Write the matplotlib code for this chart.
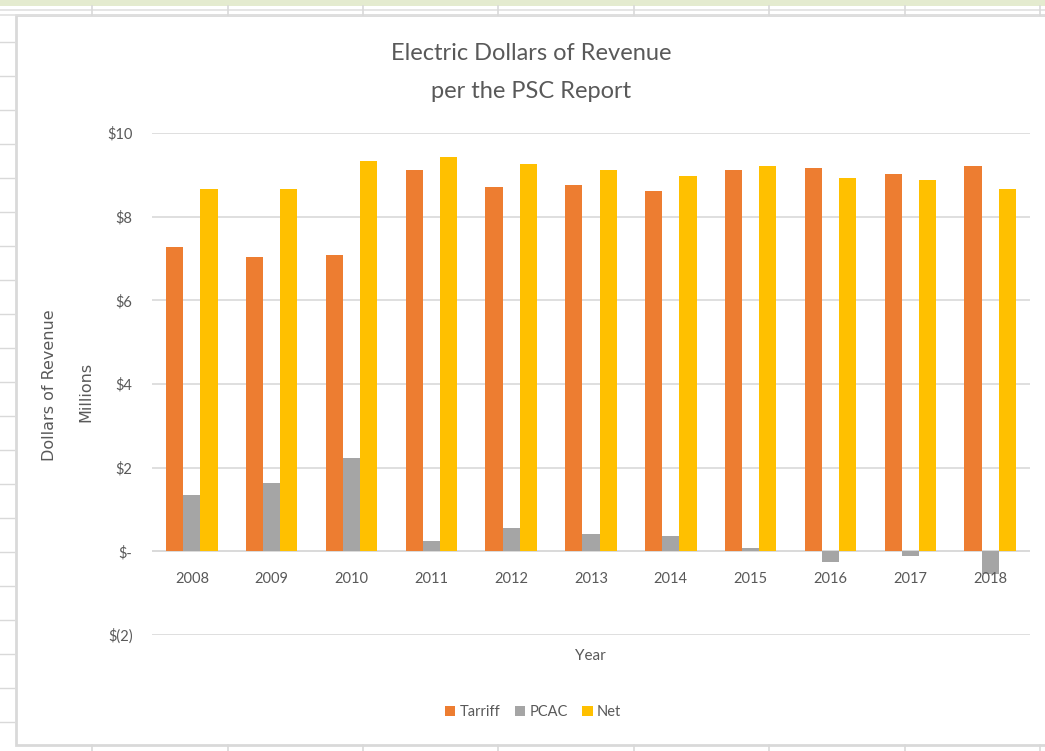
import matplotlib
matplotlib.use("Agg")
import matplotlib.pyplot as plt
import numpy as np
from matplotlib.patches import Rectangle
from matplotlib.lines import Line2D

years = ["2008", "2009", "2010", "2011", "2012", "2013", "2014", "2015", "2016", "2017", "2018"]
tariff = [7.27, 7.03, 7.08, 9.11, 8.71, 8.76, 8.61, 9.11, 9.16, 9.02, 9.21]
pcac = [1.34, 1.63, 2.22, 0.24, 0.55, 0.41, 0.36, 0.07, -0.26, -0.10, -0.55]
net = [8.66, 8.66, 9.33, 9.43, 9.26, 9.11, 8.97, 9.21, 8.92, 8.88, 8.66]
yticks = [-2, 0, 2, 4, 6, 8, 10]
ytick_labels = ["$(2)", "$-", "$2", "$4", "$6", "$8", "$10"]

colors = {"Tarriff": "#ED7D31", "PCAC": "#A5A5A5", "Net": "#FFC000"}
txt = "#595959"
font = "Lato"

W, H = 1045, 751
fig = plt.figure(figsize=(W / 100, H / 100), dpi=100)

# spreadsheet-like decorations
fig.add_artist(Rectangle((0, 1 - 6 / H), 1, 6 / H, transform=fig.transFigure,
                         facecolor="#E4EBCF", edgecolor="none", zorder=0))
fig.add_artist(Rectangle((16 / W, 1 - 745 / H), 1.0, (745 - 15) / H, transform=fig.transFigure,
                         facecolor="white", edgecolor="#D9D9D9", linewidth=2, zorder=0))
for yy in (10, 15):
    fig.add_artist(Line2D([0, 1], [1 - yy / H, 1 - yy / H], transform=fig.transFigure,
                          color="#E0E0E0", linewidth=1.2))
for xx in (92, 228, 363, 498, 634, 769, 905, 1040):
    fig.add_artist(Line2D([xx / W, xx / W], [1 - 6 / H, 1 - 15 / H], transform=fig.transFigure,
                          color="#D9D9D9", linewidth=1.2))
    fig.add_artist(Line2D([xx / W, xx / W], [1 - 745 / H, 1 - 751 / H], transform=fig.transFigure,
                          color="#D9D9D9", linewidth=1.2))
for yy in range(42, 745, 34):
    fig.add_artist(Line2D([0, 14 / W], [1 - yy / H, 1 - yy / H], transform=fig.transFigure,
                          color="#D9D9D9", linewidth=1.0))

ax = fig.add_axes([152 / W, 1 - 635 / H, (1030 - 152) / W, (635 - 133) / H])
x = np.arange(len(years))
bw = 0.215
ax.bar(x - bw, tariff, bw, color=colors["Tarriff"], label="Tarriff", zorder=3)
ax.bar(x, pcac, bw, color=colors["PCAC"], label="PCAC", zorder=3)
ax.bar(x + bw, net, bw, color=colors["Net"], label="Net", zorder=3)

ax.set_xlim(-0.5, len(years) - 0.5)
ax.set_ylim(-2, 10)
ax.set_yticks(yticks)
ax.set_yticklabels(ytick_labels, fontsize=10.5, color=txt, family=font)
ax.yaxis.grid(True, color="#D9D9D9", linewidth=1.2, zorder=0)
ax.set_axisbelow(True)
ax.axhline(0, color="#D9D9D9", linewidth=1.2, zorder=2)
for s in ax.spines.values():
    s.set_visible(False)
ax.tick_params(axis="both", length=0)
ax.tick_params(axis="y", pad=14)
ax.set_xticks([])
for i, yr in enumerate(years):
    ax.text(i, -0.65, yr, ha="center", va="center", fontsize=10.5, color=txt, family=font)

fig.text(590 / W, 1 - 656 / H, "Year", ha="center", va="center", fontsize=11, color=txt, family=font)
fig.text(50 / W, 1 - 385 / H, "Dollars of Revenue", rotation=90, ha="center", va="center",
         fontsize=11.5, color=txt, family="DejaVu Sans")
fig.text(86 / W, 1 - 392 / H, "Millions", rotation=90, ha="center", va="center",
         fontsize=11.5, color=txt, family="DejaVu Sans")
fig.text(531 / W, 1 - 53 / H, "Electric Dollars of Revenue", ha="center", va="center",
         fontsize=17, color=txt, family=font)
fig.text(531 / W, 1 - 91 / H, "per the PSC Report", ha="center", va="center",
         fontsize=17, color=txt, family=font)

leg = fig.legend(loc="center", bbox_to_anchor=(533 / W, 1 - 712 / H), ncol=3, frameon=False,
                 prop={"family": font, "size": 10.5}, handlelength=0.7, handleheight=0.7,
                 handletextpad=0.3, columnspacing=1.0)
for t in leg.get_texts():
    t.set_color(txt)

fig.savefig("out.png", dpi=100)
